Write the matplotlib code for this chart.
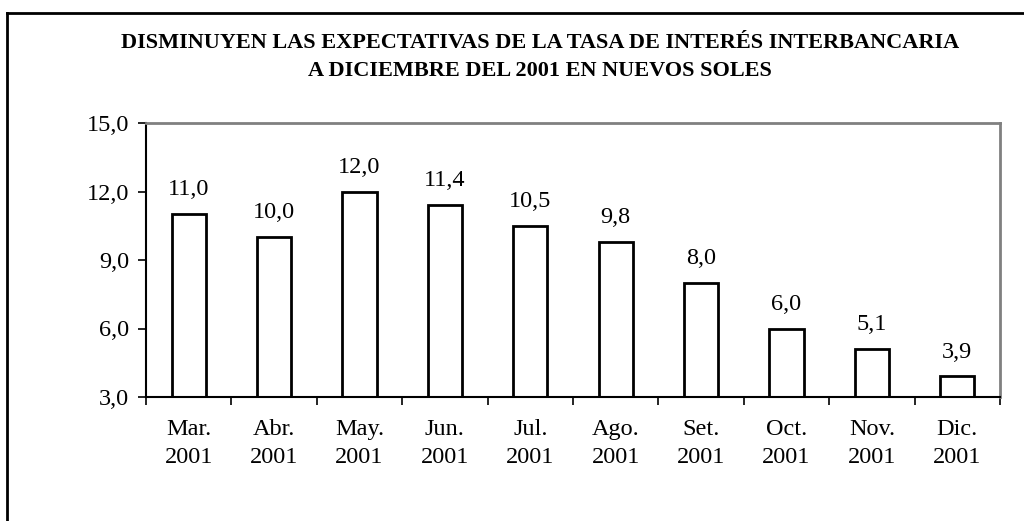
import numpy as np
import matplotlib.pyplot as plt
from matplotlib.lines import Line2D

# Data
months = ['Mar.', 'Abr.', 'May.', 'Jun.', 'Jul.', 'Ago.', 'Set.', 'Oct.', 'Nov.', 'Dic.']
year = '2001'
values = [11.0, 10.0, 12.0, 11.4, 10.5, 9.8, 8.0, 6.0, 5.1, 3.9]
yticks = [3.0, 6.0, 9.0, 12.0, 15.0]

plt.rcParams['font.family'] = ['Liberation Serif', 'DejaVu Serif']

fig = plt.figure(figsize=(10.24, 5.21), dpi=100)
ax = fig.add_axes([146 / 1024, 1 - 397 / 521, (1000 - 146) / 1024, (397 - 123) / 521])

x = np.arange(len(months))
ax.bar(x, np.array(values) - 3.0, bottom=3.0, width=0.4,
       color='white', edgecolor='black', linewidth=2)

for xi, v in zip(x, values):
    ax.annotate(f'{v:.1f}'.replace('.', ','), (xi, v), xytext=(0, 10),
                textcoords='offset points', ha='center', va='bottom', fontsize=17.5)

ax.set_xlim(-0.5, len(months) - 0.5)
ax.set_ylim(3, 15)
ax.set_yticks(yticks)
ax.set_yticklabels([f'{t:.1f}'.replace('.', ',') for t in yticks], fontsize=17.5)
ax.set_xticks(np.arange(len(months) + 1) - 0.5)
ax.set_xticklabels([])
ax.set_xticks(x, minor=True)
ax.set_xticklabels([f'{m}\n{year}' for m in months], minor=True, fontsize=17.5,
                   linespacing=1.45)
ax.tick_params(axis='x', which='minor', length=0, pad=16)
ax.tick_params(axis='y', which='major', pad=6)
ax.tick_params(axis='both', which='major', length=6, width=1.2, direction='out')

ax.spines['left'].set_linewidth(1.5)
ax.spines['bottom'].set_linewidth(1.5)
ax.spines['top'].set_color('#808080')
ax.spines['right'].set_color('#808080')
ax.spines['top'].set_linewidth(2)
ax.spines['right'].set_linewidth(2)

fig.text(540 / 1024, 1 - 43 / 521, 'DISMINUYEN LAS EXPECTATIVAS DE LA TASA DE INTERÉS INTERBANCARIA',
         ha='center', va='center', fontsize=16, fontweight='bold')
fig.text(540 / 1024, 1 - 71 / 521, 'A DICIEMBRE DEL 2001 EN NUEVOS SOLES',
         ha='center', va='center', fontsize=16, fontweight='bold')

# outer frame (top and left edges only visible)
fig.add_artist(Line2D([7 / 1024, 7 / 1024], [0, 1 - 13 / 521], color='black', linewidth=2,
                      transform=fig.transFigure))
fig.add_artist(Line2D([7 / 1024, 1], [1 - 13 / 521, 1 - 13 / 521], color='black', linewidth=2,
                      transform=fig.transFigure))

fig.savefig('out.png', dpi=100)
